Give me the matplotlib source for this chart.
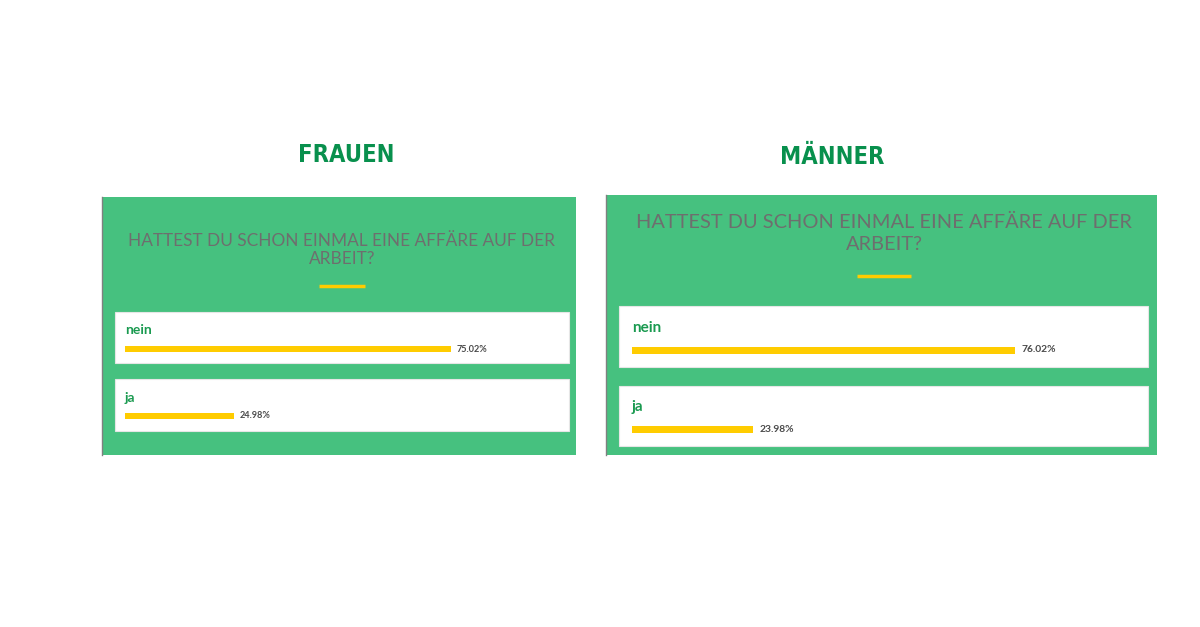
import matplotlib.pyplot as plt
from matplotlib.patches import Rectangle

panel_titles = ['FRAUEN', 'MÄNNER']
question = 'HATTEST DU SCHON EINMAL EINE AFFÄRE AUF DER\nARBEIT?'
categories = ['nein', 'ja']
frauen_values = [75.02, 24.98]
maenner_values = [76.02, 23.98]

W, H = 1200, 627
GREEN = '#46c17f'
DARK_GREEN = '#08904d'
LABEL_GREEN = '#1a9a50'
YELLOW = '#ffcc00'
GREY = '#6e6e6e'

# layout of each widget in pixels (green card, title, question, boxes, bars)
layouts = [
    dict(card=(102, 576, 197, 455), title_xy=(346, 155), q_xy=(342, 250), q_size=12.4,
         q_ls=1.2, underline=(319, 365, 286), boxes=[(115, 569, 312, 363), (115, 569, 379, 431)],
         bar_x0=125, bar_full=434.5, bar_y=[349, 416], bar_h=5.5, lab_y=[330, 398],
         lab_size=10, pct_size=6.6),
    dict(card=(606, 1157, 195, 455), title_xy=(832, 157), q_xy=(884, 233.5), q_size=14.4,
         q_ls=1.3, underline=(857, 911, 276), boxes=[(619, 1148, 306, 367), (619, 1148, 386, 446)],
         bar_x0=632, bar_full=504, bar_y=[350, 429], bar_h=7, lab_y=[328, 407],
         lab_size=11, pct_size=7.4),
]

fig = plt.figure(figsize=(W / 100, H / 100), dpi=100)
bg = fig.add_axes([0, 0, 1, 1])
bg.set_xlim(0, W)
bg.set_ylim(H, 0)
bg.axis('off')

for title, values, lay in zip(panel_titles, [frauen_values, maenner_values], layouts):
    x0, x1, y0, y1 = lay['card']
    bg.add_patch(Rectangle((x0, y0), x1 - x0, y1 - y0, facecolor=GREEN, edgecolor='none'))
    bg.plot([x0, x0], [y0, y1], color='#808080', lw=1.0)
    bg.text(lay['title_xy'][0], lay['title_xy'][1], title, ha='center', va='center',
            fontsize=17, fontweight='heavy', fontstretch='condensed',
            family='DejaVu Sans', color=DARK_GREEN)
    bg.text(lay['q_xy'][0], lay['q_xy'][1], question, ha='center', va='center',
            fontsize=lay['q_size'], family='Lato', color=GREY, linespacing=lay['q_ls'])
    ux0, ux1, uy = lay['underline']
    bg.plot([ux0, ux1], [uy, uy], color=YELLOW, lw=2.5, solid_capstyle='butt')
    for bx0, bx1, by0, by1 in lay['boxes']:
        bg.add_patch(Rectangle((bx0, by0), bx1 - bx0, by1 - by0,
                               facecolor='white', edgecolor='#e6e6e6', lw=0.8))

    # bars on their own axes: x in percent, y in pixels
    ax = fig.add_axes([lay['bar_x0'] / W, 0, lay['bar_full'] / W, 1])
    ax.set_xlim(0, 100)
    ax.set_ylim(H, 0)
    ax.axis('off')
    ax.barh(lay['bar_y'], values, height=lay['bar_h'], color=YELLOW, align='center')
    for cat, val, by, ly in zip(categories, values, lay['bar_y'], lay['lab_y']):
        ax.text(0, ly, cat, ha='left', va='center', fontsize=lay['lab_size'],
                fontweight='bold', family='Lato', color=LABEL_GREEN)
        ax.text(val + 1.3, by, f'{val:.2f}%', ha='left', va='center',
                fontsize=lay['pct_size'], fontweight='bold', family='Lato', color='#4a4a4a')

fig.savefig('out.png', dpi=100, facecolor='white')
